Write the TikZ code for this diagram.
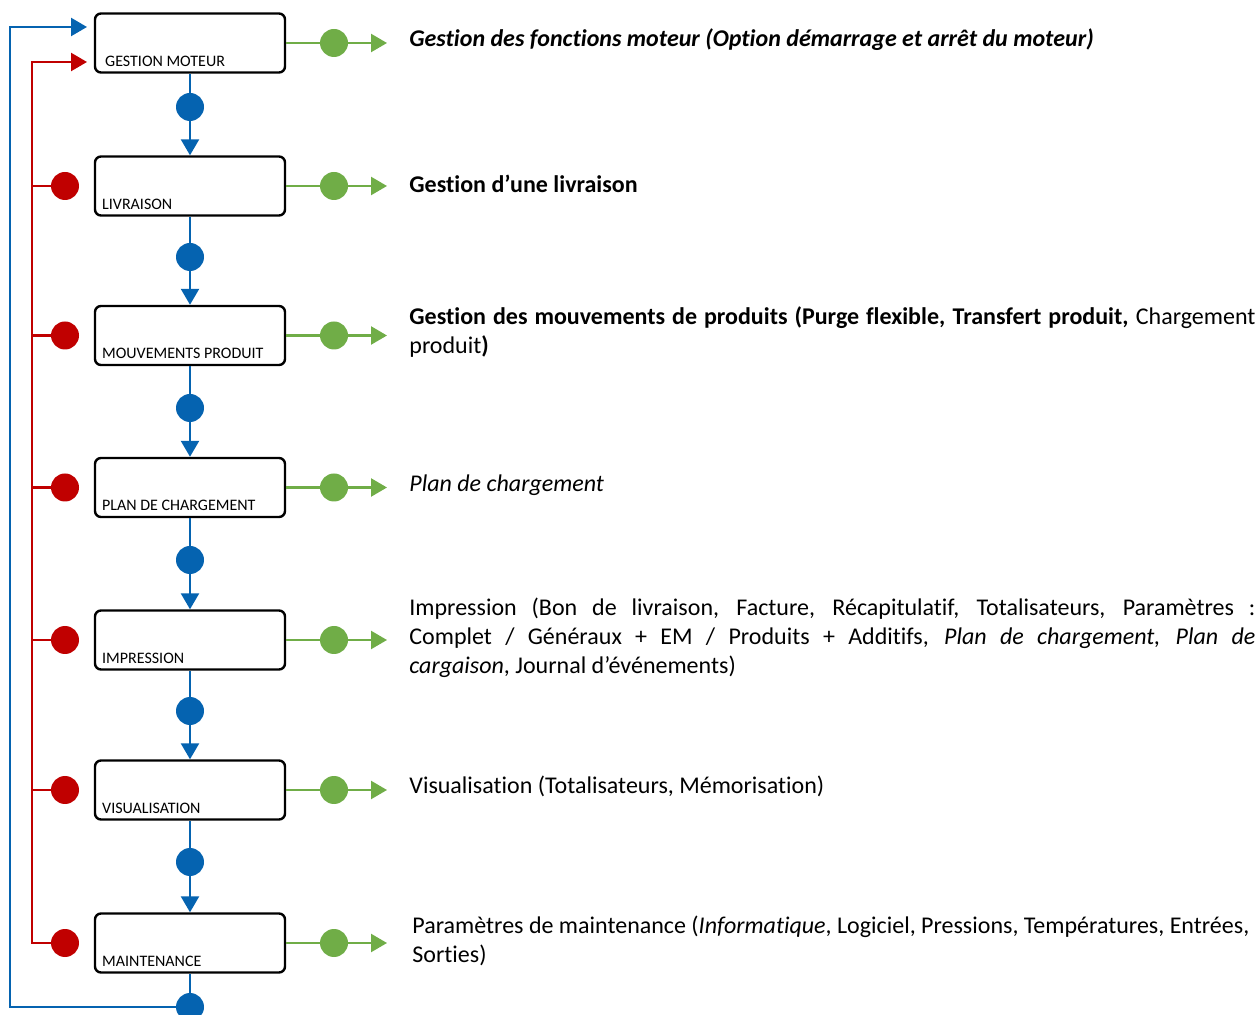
\documentclass[tikz,border=0pt]{standalone}
\usepackage{fontspec}
\setmainfont[Ligatures=NoCommon]{Carlito}
\usepackage{xcolor}
\usetikzlibrary{positioning,arrows.meta}

\definecolor{fluxbleu}{HTML}{0563B0}
\definecolor{fluxrouge}{HTML}{C00000}
\definecolor{fluxvert}{HTML}{70AD47}

\tikzset{
  etape/.style={draw, line width=1.2pt, rounded corners=3pt, minimum width=95pt, minimum height=29.5pt, inner sep=0pt},
  etiq/.style={anchor=base west, inner sep=0pt, xshift=4pt, yshift=3.8pt, font=\fontsize{8}{9.6}\selectfont},
  point/.style={circle, fill, minimum size=14pt, inner sep=0pt},
  bleu/.style={fluxbleu, line width=1.2pt},
  rouge/.style={fluxrouge, line width=1.2pt},
  vert/.style={fluxvert, line width=1.2pt},
  pointe/.style={-{Triangle[length=8pt, width=9pt]}},
  desc/.style={anchor=base west, inner sep=0pt, text width=423pt, align=justify, font=\fontsize{12}{14.5}\selectfont}
}

\begin{document}
\hyphenpenalty=10000
\begin{tikzpicture}[x=0.5pt, y=-0.5pt]
    \useasboundingbox (0,0) rectangle (1259,1015);

    % etapes
    \node [etape, label={[etiq, xshift=1.5pt]south west:GESTION MOTEUR}] (moteur) at (190,43) {};
    \node [etape, label={[etiq]south west:LIVRAISON}] (livraison) at (190,186) {};
    \node [etape, label={[etiq]south west:MOUVEMENTS PRODUIT}] (mouvements) at (190,335.5) {};
    \node [etape, label={[etiq]south west:PLAN DE CHARGEMENT}] (plan) at (190,487.5) {};
    \node [etape, label={[etiq]south west:IMPRESSION}] (impression) at (190,640) {};
    \node [etape, label={[etiq]south west:VISUALISATION}] (visu) at (190,790) {};
    \node [etape, label={[etiq]south west:MAINTENANCE}] (maint) at (190,943) {};

    % points bleus
    \node [point, fluxbleu] (b1) at (190,107) {};
    \node [point, fluxbleu] (b2) at (190,257) {};
    \node [point, fluxbleu] (b3) at (190,408) {};
    \node [point, fluxbleu] (b4) at (190,560) {};
    \node [point, fluxbleu] (b5) at (190,711) {};
    \node [point, fluxbleu] (b6) at (190,862) {};
    \node [point, fluxbleu] (b7) at (190,1007) {};

    % points rouges
    \node [point, fluxrouge] (r2) at (65,186) {};
    \node [point, fluxrouge] (r3) at (65,335.5) {};
    \node [point, fluxrouge] (r4) at (65,487.5) {};
    \node [point, fluxrouge] (r5) at (65,640) {};
    \node [point, fluxrouge] (r6) at (65,790) {};
    \node [point, fluxrouge] (r7) at (65,943) {};

    % points verts
    \node [point, fluxvert] (v1) at (334,43) {};
    \node [point, fluxvert] (v2) at (334,186) {};
    \node [point, fluxvert] (v3) at (334,335.5) {};
    \node [point, fluxvert] (v4) at (334,487.5) {};
    \node [point, fluxvert] (v5) at (334,640) {};
    \node [point, fluxvert] (v6) at (334,790) {};
    \node [point, fluxvert] (v7) at (334,943) {};

    \coordinate (s1) at (387,43);
    \coordinate (s2) at (387,186);
    \coordinate (s3) at (387,335.5);
    \coordinate (s4) at (387,487.5);
    \coordinate (s5) at (387,640);
    \coordinate (s6) at (387,790);
    \coordinate (s7) at (387,943);

    \coordinate (bcoin) at (10,27);
    \coordinate (bentree) at (87,27);
    \coordinate (rcoin) at (32,62);
    \coordinate (rentree) at (87,62);

    % textes
    \node [desc] (t1) at (409,47) {\textbf{\textit{Gestion des fonctions moteur (Option démarrage et arrêt du moteur)}}};
    \node [desc] (t2) at (409,193) {\textbf{Gestion d’une livraison}};
    \node [desc] (t3) at (409,325) {\textbf{Gestion des mouvements de produits (Purge flexible, Transfert produit,} Chargement\linebreak produit\textbf{)}};
    \node [desc] (t4) at (409,492) {\textit{Plan de chargement}};
    \node [desc] (t5) at (409,616) {Impression (Bon de livraison, Facture, Récapitulatif, Totalisateurs, Paramètres~:\linebreak Complet / Généraux + EM / Produits + Additifs, \textit{Plan de chargement, Plan de}\linebreak \textit{cargaison}, Journal d’événements)};
    \node [desc] (t6) at (409,793) {Visualisation (Totalisateurs, Mémorisation)};
    \node [desc, text width=421.5pt] (t7) at (412,933) {\spaceskip=0.226em minus 0.1em Paramètres de maintenance (\textit{Informatique}, Logiciel, Pressions, Températures, Entrées,\linebreak Sorties)};

    % enchainement
    \draw [bleu] (moteur) -- (b1);
    \draw [bleu, pointe] (b1) -- (livraison);
    \draw [bleu] (livraison) -- (b2);
    \draw [bleu, pointe] (b2) -- (mouvements);
    \draw [bleu] (mouvements) -- (b3);
    \draw [bleu, pointe] (b3) -- (plan);
    \draw [bleu] (plan) -- (b4);
    \draw [bleu, pointe] (b4) -- (impression);
    \draw [bleu] (impression) -- (b5);
    \draw [bleu, pointe] (b5) -- (visu);
    \draw [bleu] (visu) -- (b6);
    \draw [bleu, pointe] (b6) -- (maint);
    \draw [bleu] (maint) -- (b7);
    \draw [bleu, pointe] (b7) -| (bcoin) -- (bentree);

    % retours
    \draw [rouge] (r2) -- (r2 -| rcoin);
    \draw [rouge] (r3) -- (r3 -| rcoin);
    \draw [rouge] (r4) -- (r4 -| rcoin);
    \draw [rouge] (r5) -- (r5 -| rcoin);
    \draw [rouge] (r6) -- (r6 -| rcoin);
    \draw [rouge, pointe] (r7) -| (rcoin) -- (rentree);

    % sorties
    \draw [vert] (moteur) -- (v1);
    \draw [vert, pointe] (v1) -- (s1);
    \draw [vert] (livraison) -- (v2);
    \draw [vert, pointe] (v2) -- (s2);
    \draw [vert] (mouvements) -- (v3);
    \draw [vert, pointe] (v3) -- (s3);
    \draw [vert] (plan) -- (v4);
    \draw [vert, pointe] (v4) -- (s4);
    \draw [vert] (impression) -- (v5);
    \draw [vert, pointe] (v5) -- (s5);
    \draw [vert] (visu) -- (v6);
    \draw [vert, pointe] (v6) -- (s6);
    \draw [vert] (maint) -- (v7);
    \draw [vert, pointe] (v7) -- (s7);
\end{tikzpicture}
\end{document}
